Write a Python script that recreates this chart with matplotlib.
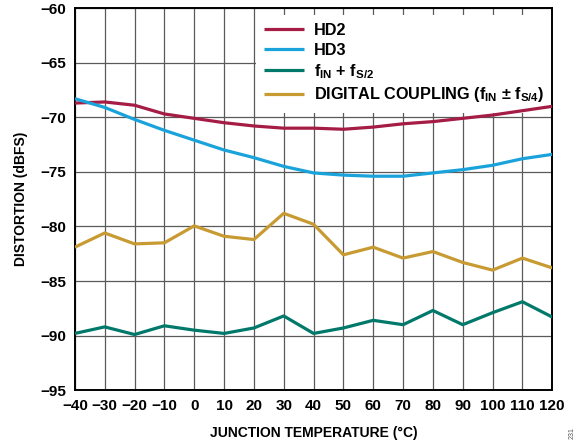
import matplotlib
matplotlib.use("Agg")
import matplotlib.pyplot as plt

plt.rcParams['font.family'] = ['Liberation Sans', 'DejaVu Sans']
plt.rcParams['font.weight'] = 'bold'
plt.rcParams['mathtext.fontset'] = 'custom'
plt.rcParams['mathtext.rm'] = 'Liberation Sans:bold'
plt.rcParams['mathtext.bf'] = 'Liberation Sans:bold'
plt.rcParams['mathtext.it'] = 'Liberation Sans:bold'
plt.rcParams['mathtext.default'] = 'rm'

# data
temps = [-40, -30, -20, -10, 0, 10, 20, 30, 40, 50, 60, 70, 80, 90, 100, 110, 120]
hd2 = [-68.7, -68.6, -68.9, -69.7, -70.1, -70.5, -70.8, -71.0, -71.0, -71.1,
       -70.9, -70.6, -70.4, -70.1, -69.8, -69.4, -69.0]
hd3 = [-68.3, -69.1, -70.2, -71.2, -72.1, -73.0, -73.7, -74.5, -75.1, -75.3,
       -75.4, -75.4, -75.1, -74.8, -74.4, -73.8, -73.4]
fin_fs2 = [-89.8, -89.2, -89.9, -89.1, -89.5, -89.8, -89.3, -88.2, -89.8, -89.3,
           -88.6, -89.0, -87.7, -89.0, -87.9, -86.9, -88.3]
dig_coupling = [-81.9, -80.6, -81.6, -81.5, -79.95, -80.9, -81.2, -78.8, -79.8, -82.6,
                -81.9, -82.9, -82.3, -83.3, -84.0, -82.9, -83.8]

labels = ['HD2', 'HD3', r'$f_{IN}$ + $f_{S/2}$',
          r'DIGITAL COUPLING ($f_{IN}$ $\pm$ $f_{S/4}$)']
colors = ['#A51C45', '#1AA3DB', '#00796B', '#C89B32']

fig = plt.figure(figsize=(5.85, 4.48), dpi=100)
ax = fig.add_axes([0.128, 0.129, 0.816, 0.853])

for series, lab, col in zip([hd2, hd3, fin_fs2, dig_coupling], labels, colors):
    ax.plot(temps, series, color=col, linewidth=2.3, label=lab,
            solid_capstyle='butt', zorder=3)

ax.set_xlim(-40, 120)
ax.set_ylim(-95, -60)
ax.set_xticks(range(-40, 121, 10))
ax.set_yticks(range(-95, -59, 5))
ax.grid(True, color='#5a5a5a', linewidth=0.9)
ax.tick_params(length=0, labelsize=11, pad=6)
for lbl in ax.get_xticklabels() + ax.get_yticklabels():
    lbl.set_fontweight('bold')
for sp in ax.spines.values():
    sp.set_linewidth(1.4)
    sp.set_color('black')

ax.set_xlabel('JUNCTION TEMPERATURE (°C)', fontsize=10, fontweight='bold', labelpad=10)
ax.set_ylabel('DISTORTION (dBFS)', fontsize=10, fontweight='bold', labelpad=9)

leg = ax.legend(loc='upper right', bbox_to_anchor=(1.0, 0.982), fontsize=11.7,
                frameon=True, fancybox=False, framealpha=1, edgecolor='none',
                handlelength=2.45, handletextpad=0.6, labelspacing=0.28,
                borderpad=0.5, borderaxespad=0.0)
leg.get_frame().set_linewidth(0)
leg.set_zorder(2)
for line in leg.get_lines():
    line.set_linewidth(2.3)

fig.text(0.978, 0.02, '231', rotation=90, fontsize=5, color='#555555',
         fontweight='normal', ha='center', va='bottom')

plt.savefig('out.png', dpi=100)
